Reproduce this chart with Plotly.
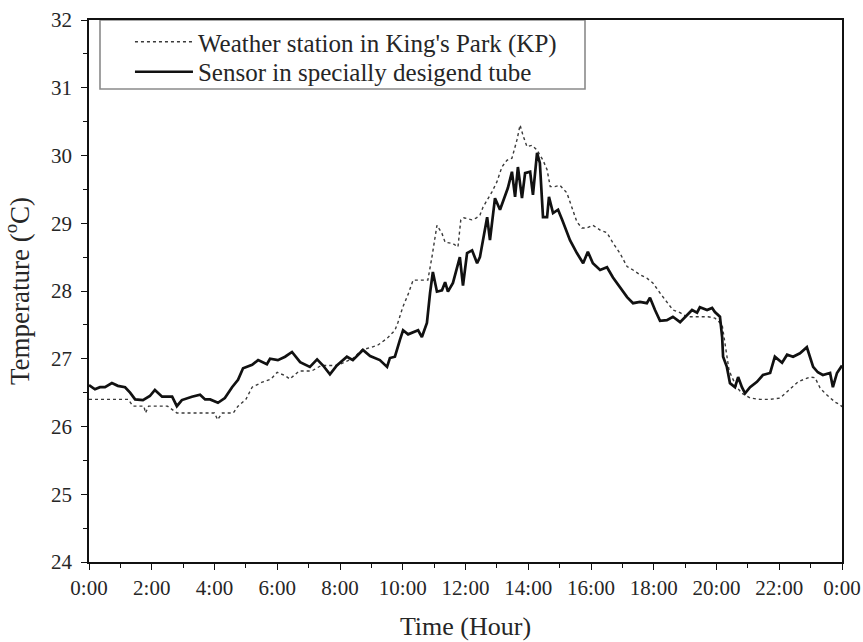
import plotly.graph_objects as go

# Weather station in King's Park (hour of day, °C)
kp_hours = [0.0, 1.25, 1.4, 1.75, 1.8, 1.9, 2.5, 2.8, 4.0, 4.1, 4.25, 4.6, 4.75, 5.0, 5.2, 5.5,
            5.8, 6.0, 6.25, 6.4, 6.7, 7.1, 7.4, 7.9, 8.4, 8.7, 9.0, 9.2, 9.5, 9.75, 9.85, 10.0,
            10.17, 10.33, 10.6, 10.8, 10.93, 11.09, 11.25, 11.35, 11.6, 11.76, 11.85, 11.95,
            12.2, 12.35, 12.46, 12.56, 12.84, 13.0, 13.16, 13.32, 13.48, 13.64, 13.74, 13.83,
            13.96, 14.12, 14.28, 14.47, 14.6, 14.7, 14.85, 15.01, 15.23, 15.39, 15.55, 15.71,
            15.87, 16.06, 16.29, 16.51, 16.7, 16.92, 17.15, 17.34, 17.56, 17.78, 17.97, 18.2,
            18.42, 18.61, 18.84, 19.06, 19.25, 19.47, 19.73, 19.95, 20.18, 20.24, 20.3, 20.33,
            20.4, 20.49, 20.65, 20.81, 21.07, 21.39, 21.71, 22.03, 22.25, 22.44, 22.6, 22.76,
            22.98, 23.14, 23.3, 23.46, 23.62, 23.78, 23.94, 24.0]
kp_temp = [26.4, 26.4, 26.3, 26.3, 26.2, 26.3, 26.3, 26.2, 26.2, 26.1, 26.2, 26.2, 26.3, 26.4, 26.58, 26.65,
           26.7, 26.8, 26.75, 26.7, 26.82, 26.82, 26.9, 26.9, 27.0, 27.13, 27.17, 27.2, 27.3, 27.42, 27.54, 27.76,
           27.95, 28.16, 28.16, 28.16, 28.5, 28.97, 28.85, 28.72, 28.7, 28.65, 29.05, 29.08,
           29.05, 29.08, 29.12, 29.24, 29.46, 29.61, 29.83, 29.93, 29.96, 30.23, 30.45, 30.3,
           30.13, 30.15, 30.08, 29.93, 29.79, 29.54, 29.54, 29.56, 29.45, 29.24, 29.02, 28.93,
           28.93, 28.97, 28.9, 28.86, 28.71, 28.56, 28.36, 28.31, 28.24, 28.19, 28.12, 27.97,
           27.84, 27.72, 27.68, 27.62, 27.62, 27.62, 27.62, 27.6, 27.5, 27.32, 27.13, 26.98,
           26.83, 26.73, 26.58, 26.49, 26.42, 26.4, 26.4, 26.42, 26.51, 26.58, 26.66, 26.69,
           26.73, 26.72, 26.57, 26.49, 26.42, 26.36, 26.32, 26.29]

# Sensor in the tube (hour of day, °C)
tube_hours = [0.0, 0.19, 0.35, 0.51, 0.73, 0.92, 1.15, 1.31, 1.47, 1.72, 1.94, 2.1, 2.33, 2.65, 2.8,
              2.96, 3.28, 3.54, 3.7, 3.86, 4.11, 4.33, 4.56, 4.75, 4.91, 5.2, 5.39, 5.67, 5.77,
              6.02, 6.25, 6.47, 6.73, 7.04, 7.27, 7.46, 7.68, 7.9, 8.22, 8.41, 8.73, 8.96, 9.27,
              9.5, 9.59, 9.75, 9.91, 10.01, 10.17, 10.33, 10.49, 10.61, 10.77, 10.87, 10.96,
              11.09, 11.25, 11.35, 11.44, 11.6, 11.82, 11.92, 12.05, 12.21, 12.37, 12.46, 12.69,
              12.78, 12.94, 13.1, 13.2, 13.35, 13.48, 13.58, 13.67, 13.8, 13.9, 14.06, 14.15,
              14.28, 14.37, 14.47, 14.6, 14.66, 14.79, 14.95, 15.08, 15.17, 15.33, 15.55, 15.75,
              15.9, 16.06, 16.29, 16.51, 16.7, 16.92, 17.15, 17.34, 17.56, 17.78, 17.88, 18.04,
              18.2, 18.42, 18.61, 18.84, 19.0, 19.22, 19.38, 19.47, 19.7, 19.86, 19.95, 20.11,
              20.18, 20.21, 20.33, 20.43, 20.59, 20.69, 20.81, 20.91, 21.07, 21.29, 21.48, 21.71,
              21.86, 22.09, 22.25, 22.44, 22.66, 22.88, 23.08, 23.23, 23.39, 23.62, 23.71, 23.84, 24.0]
tube_temp = [26.61, 26.55, 26.58, 26.58, 26.64, 26.6, 26.58, 26.5, 26.4, 26.39, 26.45, 26.54, 26.44, 26.44, 26.3,
             26.39, 26.44, 26.47, 26.4, 26.4, 26.35, 26.42, 26.58, 26.69, 26.86, 26.91, 26.98, 26.92, 27.0,
             26.98, 27.03, 27.1, 26.95, 26.88, 26.99, 26.9, 26.77, 26.9, 27.03, 26.98, 27.13, 27.04, 26.98,
             26.88, 27.01, 27.03, 27.28, 27.42, 27.36, 27.39, 27.42, 27.32, 27.53, 27.97, 28.28,
             27.99, 28.01, 28.13, 27.99, 28.12, 28.5, 28.08, 28.56, 28.6, 28.41, 28.5, 29.09,
             28.75, 29.37, 29.2, 29.34, 29.52, 29.76, 29.39, 29.83, 29.37, 29.74, 29.76, 29.42,
             30.04, 29.89, 29.09, 29.09, 29.39, 29.15, 29.2, 29.05, 28.94, 28.75, 28.56, 28.41,
             28.58, 28.41, 28.31, 28.35, 28.2, 28.06, 27.91, 27.82, 27.84, 27.82, 27.9, 27.72,
             27.56, 27.57, 27.62, 27.54, 27.62, 27.72, 27.68, 27.76, 27.72, 27.75, 27.69, 27.62,
             27.32, 27.03, 26.88, 26.64, 26.58, 26.73, 26.58, 26.49, 26.58, 26.66, 26.76, 26.79,
             27.03, 26.94, 27.06, 27.03, 27.08, 27.17, 26.88, 26.8, 26.76, 26.79, 26.58, 26.79, 26.9]

time_ticks = list(range(0, 25, 2))
time_labels = ["0:00", "2:00", "4:00", "6:00", "8:00", "10:00", "12:00",
               "14:00", "16:00", "18:00", "20:00", "22:00", "0:00"]
temp_ticks = list(range(24, 33))

FONT = "Liberation Serif, Times New Roman, serif"
TEXT_COLOR = "#262626"

fig = go.Figure()
fig.add_trace(go.Scatter(
    x=kp_hours, y=kp_temp, mode="lines",
    name="Weather station in King's Park (KP)",
    line=dict(color="#3a3a3a", width=1.4, dash="dot"),
    legend="legend",
))
fig.add_trace(go.Scatter(
    x=tube_hours, y=tube_temp, mode="lines",
    name="Sensor in specially desigend tube",
    line=dict(color="#111111", width=2.7),
    legend="legend2",
))

axis_common = dict(
    showgrid=False, zeroline=False, automargin=False,
    showline=True, linecolor="#111111", linewidth=1.5, mirror=True,
    ticks="outside", ticklen=6, tickwidth=1.3, tickcolor="#111111",
    tickfont=dict(family=FONT, size=21, color=TEXT_COLOR),
)

fig.update_xaxes(
    range=[0, 24], tickvals=time_ticks, ticktext=time_labels,
    minor=dict(dtick=1, tick0=0, ticks="outside", ticklen=4, tickwidth=1.2, tickcolor="#111111"),
    title=dict(text="Time (Hour)", font=dict(family=FONT, size=26, color=TEXT_COLOR), standoff=18),
    **axis_common,
)
fig.update_yaxes(
    range=[24, 32], tickvals=temp_ticks, ticklabelstandoff=5,
    minor=dict(dtick=0.5, tick0=24, ticks="outside", ticklen=4, tickwidth=1.2, tickcolor="#111111"),
    title=dict(text="Temperature (<sup>o</sup>C)", font=dict(family=FONT, size=27, color=TEXT_COLOR),
               standoff=14),
    **axis_common,
)

# Framed box behind the legend entries
fig.add_shape(
    type="rect", xref="paper", yref="paper",
    x0=0.0146, x1=0.6587, y0=0.8727, y1=1.0,
    line=dict(color="#8a8a8a", width=1.6), fillcolor="white", layer="below",
)

legend_common = dict(
    x=0.0544, xanchor="left", yanchor="middle",
    bgcolor="rgba(0,0,0,0)", borderwidth=0,
    font=dict(family=FONT, size=25, color=TEXT_COLOR),
    itemwidth=58,
)

fig.update_layout(
    width=863, height=642,
    margin=dict(l=89, r=21, t=20, b=80),
    paper_bgcolor="white", plot_bgcolor="white",
    showlegend=True,
    legend=dict(y=0.9594, **legend_common),
    legend2=dict(y=0.9041, **legend_common),
)

fig.write_html("out.html")
